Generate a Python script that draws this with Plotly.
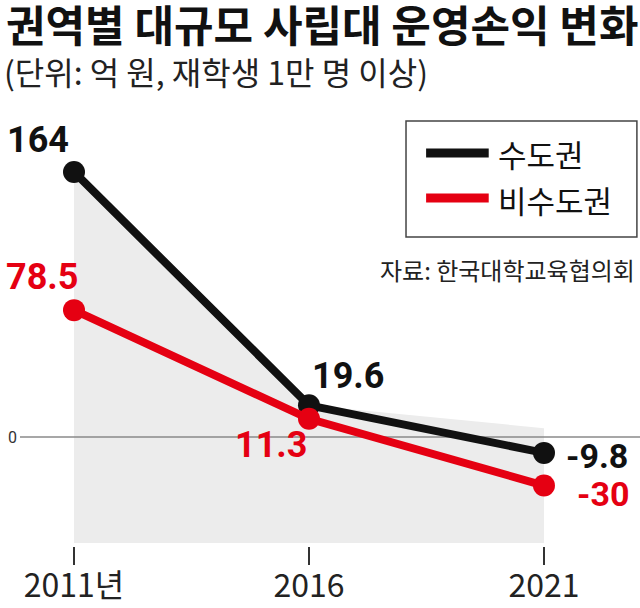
import plotly.graph_objects as go

# data
years = [2011, 2016, 2021]
year_labels = ["2011년", "2016", "2021"]
capital = [164, 19.6, -9.8]        # 수도권
non_capital = [78.5, 11.3, -30]    # 비수도권
shade_top = [164, 19.6, 5.5]       # gray backdrop under the lines
shade_floor = [-65.5, -65.5, -65.5]

X_RANGE = [2009.851, 2023.043]
Y_RANGE = [-67.4, 208.5]

BLACK = "#111111"
RED = "#e50012"
KFONT = "Noto Sans CJK KR"

fig = go.Figure()

# gray backdrop
fig.add_trace(go.Scatter(x=years, y=shade_floor, mode="lines", line=dict(width=0),
                         hoverinfo="skip", showlegend=False))
fig.add_trace(go.Scatter(x=years, y=shade_top, mode="lines", line=dict(width=0),
                         fill="tonexty", fillcolor="#ececec", hoverinfo="skip", showlegend=False))
# zero line across the full width, above the gray backdrop
fig.add_trace(go.Scatter(x=X_RANGE, y=[0, 0], mode="lines", line=dict(color="#8a8a8a", width=1.5),
                         hoverinfo="skip", showlegend=False))

fig.add_trace(go.Scatter(x=years, y=capital, mode="lines+markers", name="수도권",
                         line=dict(color=BLACK, width=8), marker=dict(size=22, color=BLACK)))
fig.add_trace(go.Scatter(x=years, y=non_capital, mode="lines+markers", name="비수도권",
                         line=dict(color=RED, width=8), marker=dict(size=22, color=RED)))

# value labels (pixel offsets from the points, font size)
cap_shift = [(-36, 32, 36), (39, 29, 36), (53, -3, 34)]
non_shift = [(-32, 33, 36), (-38, -26, 36), (59, -8, 34)]
for xv, yv, (dx, dy, fs) in zip(years, capital, cap_shift):
    fig.add_annotation(x=xv, y=yv, text=f"{yv:g}", showarrow=False, xshift=dx, yshift=dy,
                       font=dict(family="Roboto", size=fs, color=BLACK, weight="bold"))
for xv, yv, (dx, dy, fs) in zip(years, non_capital, non_shift):
    fig.add_annotation(x=xv, y=yv, text=f"{yv:g}", showarrow=False, xshift=dx, yshift=dy,
                       font=dict(family="Roboto", size=fs, color=RED, weight="bold"))

# title / subtitle
fig.add_annotation(xref="paper", yref="paper", x=-0.026, y=1.172, xanchor="left", yanchor="middle",
                   text="권역별 대규모 사립대 운영손익 변화", showarrow=False,
                   font=dict(family=KFONT, size=43, color="#111111", weight="bold"))
fig.add_annotation(xref="paper", yref="paper", x=-0.029, y=1.064, xanchor="left", yanchor="middle",
                   text="(단위: 억 원, 재학생 1만 명 이상)", showarrow=False,
                   font=dict(family=KFONT, size=32, color="#222222"))

# legend box drawn by hand
fig.add_shape(type="rect", xref="paper", yref="paper", x0=0.6226, x1=0.995, y0=0.693, y1=0.953,
              line=dict(color="#444444", width=1.5), fillcolor="white")
fig.add_shape(type="line", xref="paper", yref="paper", x0=0.655, x1=0.756, y0=0.881, y1=0.881,
              line=dict(color=BLACK, width=9))
fig.add_shape(type="line", xref="paper", yref="paper", x0=0.655, x1=0.756, y0=0.780, y1=0.780,
              line=dict(color=RED, width=9))
fig.add_annotation(xref="paper", yref="paper", x=0.768, y=0.879, xanchor="left", yanchor="middle",
                   text="수도권", showarrow=False, font=dict(family=KFONT, size=31, color="#111111"))
fig.add_annotation(xref="paper", yref="paper", x=0.768, y=0.776, xanchor="left", yanchor="middle",
                   text="비수도권", showarrow=False, font=dict(family=KFONT, size=31, color="#111111"))

# source
fig.add_annotation(xref="paper", yref="paper", x=0.995, y=0.619, xanchor="right", yanchor="middle",
                   text="자료: 한국대학교육협의회", showarrow=False,
                   font=dict(family=KFONT, size=24, color="#222222"))

fig.update_layout(
    width=640, height=608,
    margin=dict(l=20, r=0, t=100, b=62),
    paper_bgcolor="white", plot_bgcolor="white",
    showlegend=False,
    xaxis=dict(range=X_RANGE, tickvals=years, ticktext=year_labels, automargin=False,
               showgrid=False, zeroline=False, showline=False,
               ticks="outside", ticklen=18, tickwidth=1.5, tickcolor="#333333",
               ticklabelstandoff=-6,
               tickfont=dict(family=KFONT, size=32, color="#222222")),
    yaxis=dict(range=Y_RANGE, tickvals=[0], ticktext=["0"], automargin=False,
               showgrid=False, zeroline=False,
               showline=False, ticks="", ticklabelstandoff=2,
               tickfont=dict(family="Roboto", size=16, color="#333333")),
)

# drop the page's default body margin so the figure sits at the top-left corner
fig.write_html("out.html", config={"displayModeBar": False},
               post_script="document.body.style.margin='0';")
